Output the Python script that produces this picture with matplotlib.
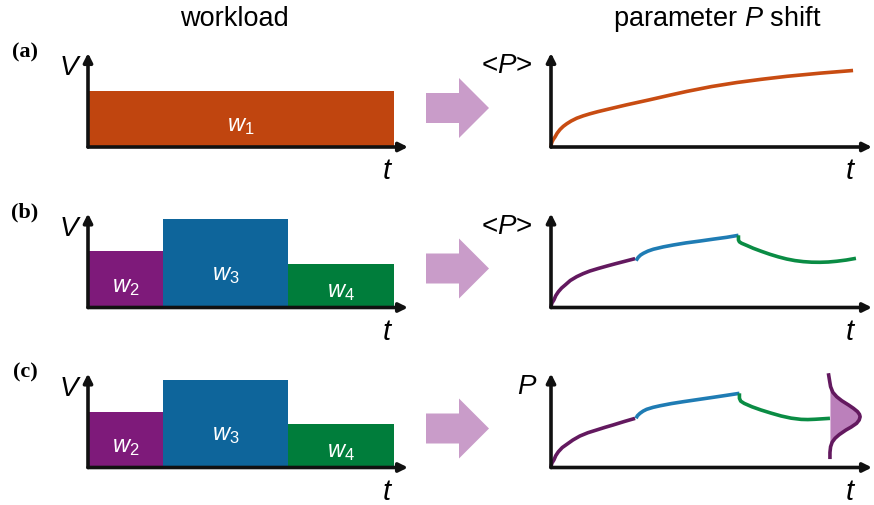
"""Workload (V over t) and the resulting shift of parameter P, three cases."""

import numpy as np
import matplotlib
matplotlib.use("Agg")
import matplotlib.pyplot as plt
from matplotlib.patches import Polygon

plt.rcParams["font.family"] = ["Liberation Sans", "DejaVu Sans"]
plt.rcParams["mathtext.fontset"] = "custom"
plt.rcParams["mathtext.rm"] = "Liberation Sans"
plt.rcParams["mathtext.it"] = "Liberation Sans:italic"

W, H = 874, 505

# --- workloads (t and V in axis units, arrow tips at 1) ---
A_EDGES = [0.0, 0.957]
A_LOAD = [0.60]
A_NAMES = ["1"]

BC_EDGES = [0.0, 0.233, 0.626, 0.957]
B_LOAD = [0.60, 0.94, 0.46]
C_LOAD = [0.59, 0.93, 0.46]
BC_NAMES = ["2", "3", "4"]

# --- <P>(t) response, case (a) ---
A_T = [0.0, 0.001, 0.003, 0.007, 0.012, 0.019, 0.028, 0.038, 0.049, 0.063,
       0.080, 0.100, 0.121, 0.146, 0.174, 0.236, 0.308, 0.371, 0.424, 0.500,
       0.579, 0.655, 0.735, 0.840, 0.941]
A_P = [0.0, 0.030, 0.053, 0.080, 0.104, 0.146, 0.186, 0.219, 0.247, 0.277,
       0.306, 0.331, 0.353, 0.376, 0.399, 0.449, 0.503, 0.552, 0.592, 0.643,
       0.686, 0.720, 0.752, 0.786, 0.814]

# --- <P>(t) response, case (b): one piece per workload ---
B2_T = [0.0, 0.001, 0.003, 0.009, 0.015, 0.023, 0.033, 0.044, 0.060, 0.080,
        0.100, 0.121, 0.148, 0.174, 0.200, 0.226, 0.262]
B2_P = [0.0, 0.025, 0.048, 0.080, 0.127, 0.168, 0.207, 0.239, 0.287, 0.328,
        0.360, 0.388, 0.416, 0.441, 0.465, 0.488, 0.520]
B3_T = [0.265, 0.268, 0.272, 0.279, 0.288, 0.302, 0.319, 0.350, 0.381, 0.420,
        0.464, 0.505, 0.548, 0.584]
B3_P = [0.499, 0.515, 0.535, 0.558, 0.577, 0.600, 0.620, 0.645, 0.665, 0.687,
        0.707, 0.727, 0.747, 0.768]
B4_T = [0.584, 0.584, 0.587, 0.594, 0.610, 0.630, 0.656, 0.682, 0.708, 0.734,
        0.760, 0.786, 0.812, 0.838, 0.864, 0.890, 0.920, 0.950]
B4_P = [0.768, 0.718, 0.698, 0.683, 0.660, 0.630, 0.597, 0.566, 0.539, 0.516,
        0.499, 0.488, 0.482, 0.481, 0.484, 0.492, 0.505, 0.523]

# --- P(t), case (c) ---
C2_T = [0.0, 0.001, 0.003, 0.009, 0.015, 0.023, 0.035, 0.049, 0.068, 0.090,
        0.115, 0.142, 0.168, 0.193, 0.228, 0.262]
C2_P = [0.0, 0.025, 0.048, 0.080, 0.127, 0.168, 0.212, 0.246, 0.292, 0.335,
        0.370, 0.399, 0.427, 0.452, 0.489, 0.523]
C3_T = [0.265, 0.269, 0.277, 0.287, 0.298, 0.318, 0.340, 0.375, 0.412, 0.460,
        0.506, 0.547, 0.587]
C3_P = [0.523, 0.550, 0.576, 0.600, 0.619, 0.640, 0.657, 0.680, 0.700, 0.724,
        0.747, 0.768, 0.789]
C4_T = [0.587, 0.587, 0.591, 0.602, 0.626, 0.654, 0.686, 0.717, 0.748, 0.779,
        0.800, 0.822, 0.846, 0.869]
C4_P = [0.789, 0.736, 0.706, 0.682, 0.646, 0.612, 0.578, 0.548, 0.525, 0.512,
        0.510, 0.513, 0.518, 0.523]

# spread of P at the end of case (c)
DIST_T0 = 0.869
DIST_P = [0.984, 0.92, 0.86, 0.80, 0.753, 0.71, 0.665, 0.63, 0.594, 0.565,
          0.54, 0.505, 0.47, 0.43, 0.399, 0.35, 0.311, 0.27, 0.221, 0.16,
          0.109]
DIST_W = [-0.004, -0.001, 0.002, 0.009, 0.021, 0.037, 0.058, 0.073, 0.086,
          0.092, 0.094, 0.091, 0.083, 0.066, 0.050, 0.029, 0.016, 0.007,
          0.002, 0.0, 0.0]

C_W1 = "#c0450f"
C_W2 = "#7e1a7a"
C_W3 = "#0e659b"
C_W4 = "#007d3b"
L_W1 = "#c84c12"
L_W2 = "#63195f"
L_W3 = "#1f7cb4"
L_W4 = "#0a8c44"
DIST_FILL = "#bb80bb"
ARROW_PINK = "#c99cc9"
AXIS = "#111111"

ROW_BASE = [147, 307.5, 467.5]     # pixel row of the t axis
AX_H = 94
LEFT_X, LEFT_W = 88, 320
RIGHT_X, RIGHT_W = 551, 321
LW = 2.6

fig = plt.figure(figsize=(W / 100, H / 100), dpi=100, facecolor="white")

# overlay in pixel units for headers, letters and block arrows
over = fig.add_axes([0, 0, 1, 1])
over.set_xlim(0, W)
over.set_ylim(H, 0)
over.axis("off")


def panel(x0, width, base):
    ax = fig.add_axes([x0 / W, (H - base) / H, width / W, AX_H / H])
    ax.set_xlim(0, 1)
    ax.set_ylim(0, 1)
    ax.axis("off")
    for tip in [(1, 0), (0, 1)]:
        ax.annotate("", xy=tip, xytext=(0, 0), annotation_clip=False,
                    arrowprops=dict(arrowstyle="-|>", lw=2.6, color=AXIS,
                                    shrinkA=0, shrinkB=0,
                                    mutation_scale=13), zorder=5)
    return ax


def workload(ax, edges, loads, colors, names):
    left = edges[:-1]
    widths = np.diff(edges)
    ax.bar(left, loads, width=widths, align="edge", color=colors,
           linewidth=0, zorder=1)
    for x, w, v, n in zip(left, widths, loads, names):
        ax.text(x + w / 2, v * 0.37, r"$w_{%s}$" % n, color="white",
                ha="center", va="center", fontsize=17)


def curve(ax, t, p, color):
    ax.plot(t, p, color=color, lw=LW, solid_capstyle="butt",
            solid_joinstyle="round", clip_on=False, zorder=3)


axes = []
for base in ROW_BASE:
    axes.append((panel(LEFT_X, LEFT_W, base), panel(RIGHT_X, RIGHT_W, base)))

bc_colors = [C_W2, C_W3, C_W4]
workload(axes[0][0], A_EDGES, A_LOAD, [C_W1], A_NAMES)
workload(axes[1][0], BC_EDGES, B_LOAD, bc_colors, BC_NAMES)
workload(axes[2][0], BC_EDGES, C_LOAD, bc_colors, BC_NAMES)

curve(axes[0][1], A_T, A_P, L_W1)
for t, p, c in [(B2_T, B2_P, L_W2), (B3_T, B3_P, L_W3), (B4_T, B4_P, L_W4)]:
    curve(axes[1][1], t, p, c)
for t, p, c in [(C2_T, C2_P, L_W2), (C3_T, C3_P, L_W3), (C4_T, C4_P, L_W4)]:
    curve(axes[2][1], t, p, c)

axc = axes[2][1]
dist_x = DIST_T0 + np.array(DIST_W)
axc.fill_betweenx(DIST_P, DIST_T0, np.maximum(dist_x, DIST_T0),
                  color=DIST_FILL, linewidth=0, zorder=2)
axc.plot(dist_x, DIST_P, color=L_W2, lw=LW, clip_on=False, zorder=4,
         solid_joinstyle="round")

# headers
over.text(234, 26, "workload", ha="center", va="baseline", fontsize=19.5)
over.text(717, 26, r"parameter $P$ shift", ha="center", va="baseline",
          fontsize=19.5)

y_labels = [r"<$P$>", r"<$P$>", r"$P$"]
y_label_x = [507, 507, 527]
for k, base in enumerate(ROW_BASE):
    dy = base - ROW_BASE[0]
    over.text(25, 52 + dy, "(%s)" % "abc"[k], family="Liberation Serif",
              weight="bold", fontsize=16, ha="center", va="center")
    over.text(69, 68 + dy, "V", style="italic", fontsize=20,
              ha="center", va="center")
    over.text(387, 171 + dy, "t", style="italic", fontsize=21,
              ha="center", va="center")
    over.text(850, 171 + dy, "t", style="italic", fontsize=21,
              ha="center", va="center")
    over.text(y_label_x[k], 66 + dy, y_labels[k], fontsize=20,
              ha="center", va="center")
    # block arrow between workload and response
    pts = [(426, 93), (459, 93), (459, 78), (489, 108), (459, 138),
           (459, 123), (426, 123)]
    over.add_patch(Polygon([(x, y + dy) for x, y in pts], closed=True,
                           facecolor=ARROW_PINK, edgecolor="none"))

fig.savefig("out.png", dpi=100, facecolor="white")
